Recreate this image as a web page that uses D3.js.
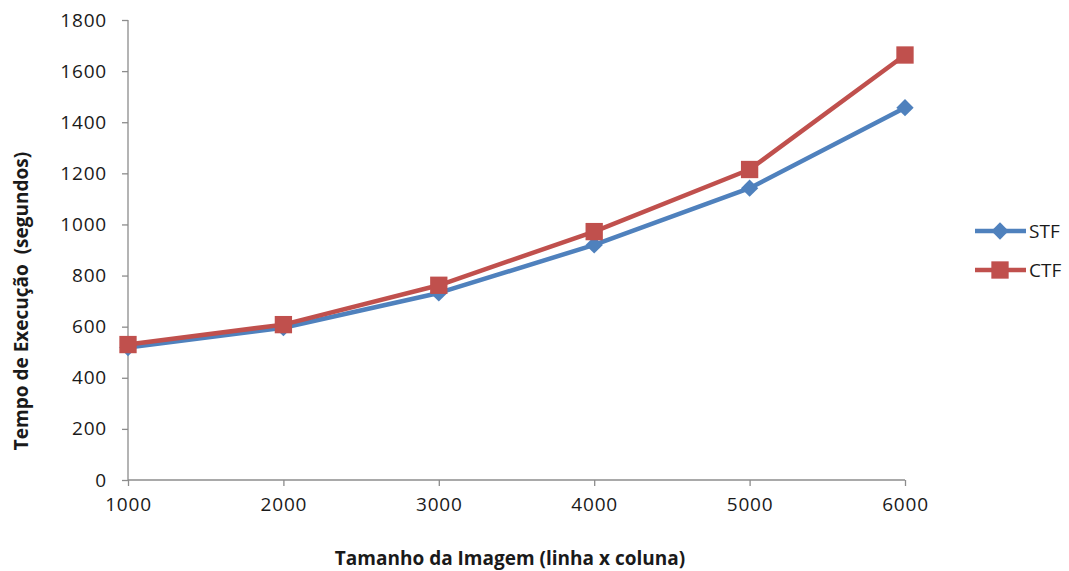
<!DOCTYPE html>
<html>
<head>
<meta charset="utf-8">
<script src="https://cdn.jsdelivr.net/npm/d3@7"></script>
<style>
  body { margin: 0; background: #fff; }
  text { font-family: 'Open Sans', sans-serif; fill: #1a1a1a; }
</style>
</head>
<body>
<div id="chart"></div>
<script>
// chart values
const sizes = [1000, 2000, 3000, 4000, 5000, 6000]
const stf = [518, 596, 732, 920, 1142, 1457]
const ctf = [530, 608, 762, 972, 1215, 1663]
const yTicks = [0, 200, 400, 600, 800, 1000, 1200, 1400, 1600, 1800]
const seriesNames = ['STF', 'CTF']

const width = 1069
const height = 571
const margin = { left: 128, right: 164, top: 20, bottom: 91 }

const svg = d3.select('#chart')
  .append('svg')
  .attr('width', width)
  .attr('height', height)

const x = d3.scaleLinear()
  .domain([1000, 6000])
  .range([margin.left, width - margin.right])

const y = d3.scaleLinear()
  .domain([0, 1800])
  .range([height - margin.bottom, margin.top])

// axes
const yAxis = svg.append('g')
  .attr('transform', 'translate(' + margin.left + ',0)')
  .call(d3.axisLeft(y).tickValues(yTicks).tickSize(6).tickPadding(15).tickFormat(d3.format('d')))
const xAxis = svg.append('g')
  .attr('transform', 'translate(0,' + (height - margin.bottom) + ')')
  .call(d3.axisBottom(x).tickValues(sizes).tickSize(6).tickPadding(12).tickFormat(d3.format('d')))

for (const ax of [yAxis, xAxis]) {
  ax.selectAll('path, line').attr('stroke', '#8c8c8c').attr('stroke-width', 1.3)
  ax.selectAll('text').attr('font-size', 19).attr('letter-spacing', 0.8).style('fill', '#1a1a1a')
}
xAxis.select('.domain').attr('d', 'M' + margin.left + ',0H' + (width - margin.right))
yAxis.select('.domain').attr('d', 'M0,' + margin.top + 'V' + (height - margin.bottom))

// titles
svg.append('text')
  .attr('x', 510)
  .attr('y', 565)
  .attr('text-anchor', 'middle')
  .attr('font-size', 19)
  .attr('font-weight', 'bold')
  .text('Tamanho da Imagem (linha x coluna)')

svg.append('text')
  .attr('transform', 'translate(28,301) rotate(-90)')
  .attr('text-anchor', 'middle')
  .attr('font-size', 19)
  .attr('font-weight', 'bold')
  .style('white-space', 'pre')
  .text('Tempo de Execução  (segundos)')

// series
const series = [
  { name: seriesNames[0], values: stf, color: '#4F81BD', rotate: 45, size: 150 },
  { name: seriesNames[1], values: ctf, color: '#C0504D', rotate: 0, size: 300 }
]

const line = d3.line()
  .x((d, i) => x(sizes[i]))
  .y(d => y(d))

const marker = s => d3.symbol(d3.symbolSquare, s.size)

series.forEach(s => {
  svg.append('path')
    .datum(s.values)
    .attr('fill', 'none')
    .attr('stroke', s.color)
    .attr('stroke-width', 4.5)
    .attr('stroke-linejoin', 'round')
    .attr('d', line)

  svg.append('g')
    .selectAll('path')
    .data(s.values)
    .join('path')
    .attr('transform', (d, i) => 'translate(' + x(sizes[i]) + ',' + y(d) + ') rotate(' + s.rotate + ')')
    .attr('d', marker(s))
    .attr('fill', s.color)
})

// legend
const legend = svg.append('g')
series.forEach((s, i) => {
  const ly = 231 + i * 39
  legend.append('line')
    .attr('x1', 975).attr('x2', 1026)
    .attr('y1', ly).attr('y2', ly)
    .attr('stroke', s.color)
    .attr('stroke-width', 4.5)
  legend.append('path')
    .attr('transform', 'translate(1000,' + ly + ') rotate(' + s.rotate + ')')
    .attr('d', marker(s))
    .attr('fill', s.color)
  legend.append('text')
    .attr('x', 1029)
    .attr('y', ly + 7)
    .attr('font-size', 19)
    .text(s.name)
})
</script>
</body>
</html>
